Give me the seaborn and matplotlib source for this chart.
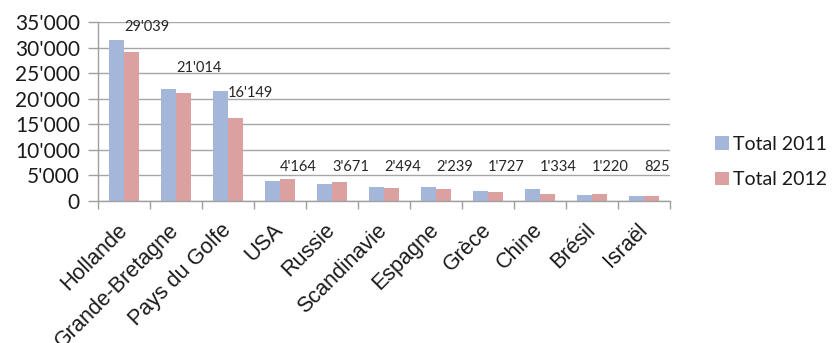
import matplotlib
matplotlib.use("Agg")
import matplotlib.pyplot as plt
from matplotlib.ticker import FuncFormatter, MultipleLocator
from matplotlib.patches import Patch
import seaborn as sns
import pandas as pd

# Visitors by country of origin, two yearly totals
countries = ["Hollande", "Grande-Bretagne", "Pays du Golfe", "USA", "Russie",
             "Scandinavie", "Espagne", "Grèce", "Chine", "Brésil", "Israël"]
total_2011 = [31400, 21800, 21400, 3800, 3270, 2620, 2680, 1900, 2230, 1060, 920]
total_2012 = [29039, 21014, 16149, 4164, 3671, 2494, 2239, 1727, 1334, 1220, 825]
series_names = ["Total 2011", "Total 2012"]
colors = ["#A4B7DB", "#DBA1A1"]

df = pd.DataFrame({
    "pays": countries * 2,
    "serie": [series_names[0]] * len(countries) + [series_names[1]] * len(countries),
    "valeur": total_2011 + total_2012,
})

sns.set_theme(style="white")
plt.rcParams["font.family"] = ["Lato", "DejaVu Sans"]

fig = plt.figure(figsize=(8.33, 3.43), dpi=100)
ax = fig.add_axes([0.1176, 0.4149, 0.6867, 0.5210])

sns.barplot(data=df, x="pays", y="valeur", hue="serie", palette=colors,
            width=0.58, dodge=True, ax=ax, legend=False, saturation=1,
            edgecolor="none", errorbar=None)

def apostrophe(v, pos=None):
    return f"{int(round(v)):,}".replace(",", "'")

ax.set_ylim(0, 35000)
ax.set_xlim(-0.5, len(countries) - 0.5)
ax.yaxis.set_major_locator(MultipleLocator(5000))
ax.yaxis.set_major_formatter(FuncFormatter(apostrophe))
ax.grid(axis="y", color="#A6A6A6", linewidth=1.0)
ax.set_axisbelow(True)
ax.set_xlabel("")
ax.set_ylabel("")

for side in ["top", "right"]:
    ax.spines[side].set_visible(False)
for side in ["left", "bottom"]:
    ax.spines[side].set_color("#A0A0A0")
    ax.spines[side].set_linewidth(1.0)

# Category separators on the x axis, outward ticks on the y axis
ax.set_xticks(range(len(countries)))
ax.set_xticks([i - 0.5 for i in range(len(countries) + 1)], minor=True)
ax.tick_params(axis="x", which="major", length=0, pad=19)
ax.tick_params(axis="x", which="minor", length=6, color="#A0A0A0", width=1,
               bottom=True, direction="out")
ax.tick_params(axis="y", which="major", length=7, color="#A0A0A0", width=1,
               left=True, direction="out", labelsize=15, pad=6,
               labelcolor="#1A1A1A")
ax.set_xticklabels(countries, rotation=45, ha="right", va="center",
                   rotation_mode="anchor", fontsize=15.5,
                   family=["Liberation Sans", "DejaVu Sans"], color="#1A1A1A")

# Value labels for the 2012 series, left-aligned on the 2012 bar;
# small values share one row above the short bars
for i, v in enumerate(total_2012):
    y = v + 5000 if v > 10000 else 6600
    ax.text(i, y, apostrophe(v), ha="left", va="center", fontsize=10.5,
            color="#262626")

handles = [Patch(facecolor=c, edgecolor="none") for c in colors]
fig.legend(handles, series_names, loc="center left",
           bbox_to_anchor=(0.8375, 0.528), frameon=False, fontsize=14,
           handlelength=0.7, handleheight=0.7, handletextpad=0.2,
           labelspacing=0.95, labelcolor="#1A1A1A")

fig.savefig("out.png", dpi=100, facecolor="white")
